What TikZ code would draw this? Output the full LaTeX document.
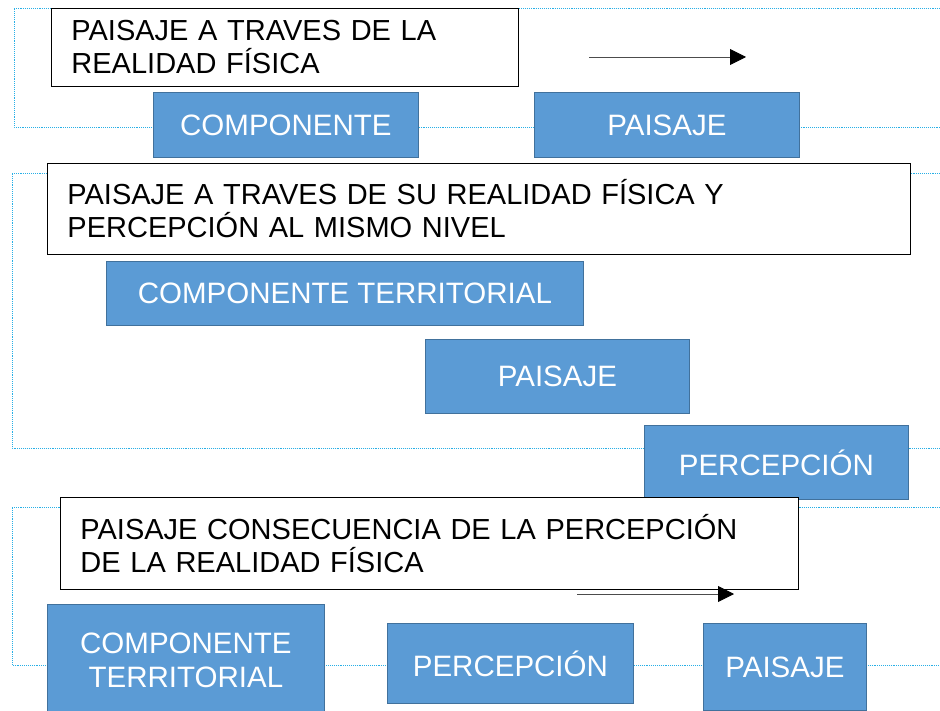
\documentclass[tikz,border=0pt]{standalone}
\usepackage{fontspec}
\setmainfont{Liberation Sans}
\usetikzlibrary{arrows.meta}
\definecolor{boxblue}{RGB}{91,155,213}
\definecolor{boxedge}{RGB}{65,113,156}
\definecolor{guide}{RGB}{40,175,230}
\tikzset{
  titlebox/.style={draw=black, fill=white, line width=0.9pt, anchor=north west, align=left, inner xsep=20pt, inner ysep=0pt, font=\fontsize{29}{33}\selectfont},
  bluebox/.style={draw=boxedge, fill=boxblue, text=white, line width=0.8pt, anchor=north west, align=center, inner sep=0pt, font=\fontsize{29.5}{34}\selectfont},
  guideline/.style={draw=guide, line width=0.9pt, densely dotted},
  flecha/.style={draw=black!70, line width=0.9pt, -{Triangle[length=16pt,width=16pt,color=black]}}
}

\begin{document}
\begin{tikzpicture}[x=1pt,y=-1pt]
  \useasboundingbox (0,0) rectangle (940,711);
  \clip (0,0) rectangle (940,711);

  % guide frames
  \draw[guideline] (940,8) -- (14,8) -- (14,127) -- (940,127);
  \draw[guideline] (940,173) -- (12,173) -- (12,448) -- (940,448);
  \draw[guideline] (940,507) -- (12,507) -- (12,665) -- (940,665);

  % first row
  \node[titlebox, text width=427pt, minimum height=78pt] (tit1) at (51,8) {PAISAJE A TRAVES DE LA\\REALIDAD FÍSICA};
  \node[bluebox, minimum width=265pt, minimum height=65pt] (comp1) at (153,92) {COMPONENTE};
  \node[bluebox, minimum width=265pt, minimum height=65pt] (pais1) at (534,92) {PAISAJE};
  \coordinate (ini1) at (589,57);
  \coordinate (fin1) at (746,57);
  \draw[flecha] (ini1) -- (fin1);

  % second row
  \node[titlebox, text width=823pt, minimum height=91pt] (tit2) at (47,163) {PAISAJE A TRAVES DE SU REALIDAD FÍSICA Y\\PERCEPCIÓN AL MISMO NIVEL};
  \node[bluebox, minimum width=477pt, minimum height=64pt] (comp2) at (106,261) {COMPONENTE TERRITORIAL};
  \node[bluebox, minimum width=264pt, minimum height=74pt] (pais2) at (425,339) {PAISAJE};
  \node[bluebox, minimum width=264pt, minimum height=74pt] (perc2) at (644,425) {PERCEPCIÓN};

  % third row
  \node[titlebox, text width=698pt, minimum height=92pt] (tit3) at (60,497) {PAISAJE CONSECUENCIA DE LA PERCEPCIÓN\\DE LA REALIDAD FÍSICA};
  \coordinate (ini3) at (577,594);
  \coordinate (fin3) at (734,594);
  \draw[flecha] (ini3) -- (fin3);
  \node[bluebox, minimum width=277pt, minimum height=112pt] (comp3) at (47,604) {COMPONENTE\\TERRITORIAL};
  \node[bluebox, minimum width=246pt, minimum height=80pt] (perc3) at (387,623) {PERCEPCIÓN};
  \node[bluebox, minimum width=163pt, minimum height=87pt] (pais3) at (703,623) {PAISAJE};
\end{tikzpicture}
\end{document}
